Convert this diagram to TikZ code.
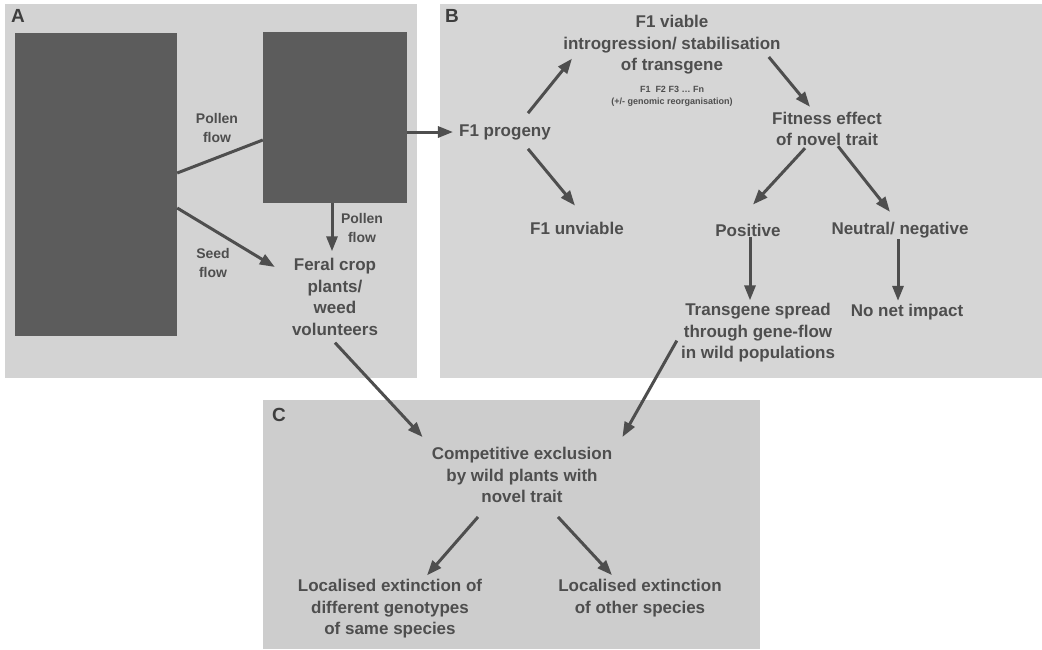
\documentclass[tikz,border=0pt]{standalone}
\usepackage{fontspec}
\setmainfont{Liberation Sans}
\usetikzlibrary{arrows.meta,calc}
\definecolor{bgA}{HTML}{D3D3D3}
\definecolor{bgB}{HTML}{D6D6D6}
\definecolor{bgC}{HTML}{CDCDCD}
\definecolor{darkbox}{HTML}{5C5C5C}
\definecolor{ink}{HTML}{4E4E4E}
\begin{document}
\begin{tikzpicture}[x=1pt,y=-1pt,
  txt/.style={text=ink,font=\fontsize{17}{21.5}\selectfont\bfseries,align=center,inner sep=1pt},
  lbl/.style={text=ink,font=\fontsize{14}{19}\selectfont\bfseries,align=center,inner sep=1pt},
  small/.style={text=ink,font=\fontsize{9}{12}\selectfont\bfseries,align=center,inner sep=1pt},
  panel/.style={text=ink!80!black,font=\fontsize{19}{19}\selectfont\bfseries,inner sep=0pt},
  arr/.style={draw=ink,line width=3pt,-{Triangle[length=15pt,width=11pt]}},
  plain/.style={draw=ink,line width=3pt},
  dbox/.style={fill=darkbox,draw=none,inner sep=0pt}]
\useasboundingbox (0,0) rectangle (1042,649);
% panel backgrounds
\fill[bgA] (5,4) rectangle (417,378);
\fill[bgB] (440,4) rectangle (1042,378);
\fill[bgC] (263,400) rectangle (760,649);
% panel letters
\node[panel] (labA) at (18,16) {A};
\node[panel] (labB) at (452,16) {B};
\node[panel] (labC) at (279,415) {C};
% Panel A
\node[dbox,minimum width=162pt,minimum height=303pt] (boxL) at (96,184) {};
\node[dbox,minimum width=144pt,minimum height=171pt] (boxR) at (335,117.5) {};
\node[txt] (feral) at (335,297) {Feral crop\\plants/\\weed\\volunteers};
\node[lbl] (pollenA) at (217,128) {Pollen\\flow};
\node[lbl] (seedA) at (213,263) {Seed\\flow};
\node[lbl] (pollenB) at (362,228) {Pollen\\flow};
% Panel B
\node[txt] (prog) at (505,132) {F1 progeny};
\node[txt] (viable) at (672,45) {F1 viable\\introgression/ stabilisation\\of transgene};
\node[small] (gens) at (672,96) {F1\ \ F2\ F3 \dots\ Fn\\(+/- genomic reorganisation)};
\node[txt] (unviable) at (577,228) {F1 unviable};
\node[txt] (fitness) at (827,129) {Fitness effect\\of novel trait};
\node[txt] (positive) at (748,230) {Positive};
\node[txt] (neutral) at (900,230) {Neutral/ negative};
\node[txt] (spread) at (758,333) {Transgene spread\\through gene-flow\\in wild populations};
\node[txt] (nonet) at (907,312) {No net impact};
% Panel C
\node[txt] (comp) at (522,475) {Competitive exclusion\\by wild plants with\\novel trait};
\node[txt] (ext1) at (390,609) {Localised extinction of\\different genotypes\\of same species};
\node[txt] (ext2) at (640,598) {Localised extinction\\of other species};
% Connectors A
\draw[plain] ($(boxL.east)+(0,-11)$) -- ($(boxR.west)+(0,22.5)$);
\draw[arr] ($(boxL.east)+(0,24)$) -- ($(feral.west)+(-16,-30)$);
\draw[arr] ($(boxR.south)+(-3,0)$) -- ($(feral.north)+(-3,-6)$);
\draw[arr] (boxR.east |- prog.west) -- ($(prog.west)+(-5,0)$);
% Connectors B
\draw[arr] ($(prog.north)+(23,-10)$) -- ($(viable.south)+(-100,-17)$);
\draw[arr] ($(prog.south)+(23,8)$) -- ($(unviable.north)+(-2,-15)$);
\draw[arr] ($(viable.east)+(-13,12)$) -- ($(fitness.north)+(-17,-4)$);
\draw[arr] ($(fitness.south)+(-22,1)$) -- ($(positive.north)+(5,-18)$);
\draw[arr] ($(fitness.south)+(11,-1)$) -- ($(neutral.north)+(-10,-9)$);
\draw[arr] ($(positive.south)+(2,0)$) -- ($(spread.north)+(-8,-2)$);
\draw[arr] ($(neutral.south)+(-2,0)$) -- ($(nonet.north)+(-9,-2)$);
% Connectors to C
\draw[arr] ($(feral.south)+(0,6)$) -- ($(comp.north west)+(-8,-9)$);
\draw[arr] ($(spread.south west)+(-3,-23)$) -- ($(comp.north east)+(9,-9)$);
\draw[arr] ($(comp.south)+(-44,13)$) -- ($(ext1.north)+(37,-3)$);
\draw[arr] ($(comp.south)+(36,13)$) -- ($(ext2.north)+(-28,-3)$);
\end{tikzpicture}
\end{document}
